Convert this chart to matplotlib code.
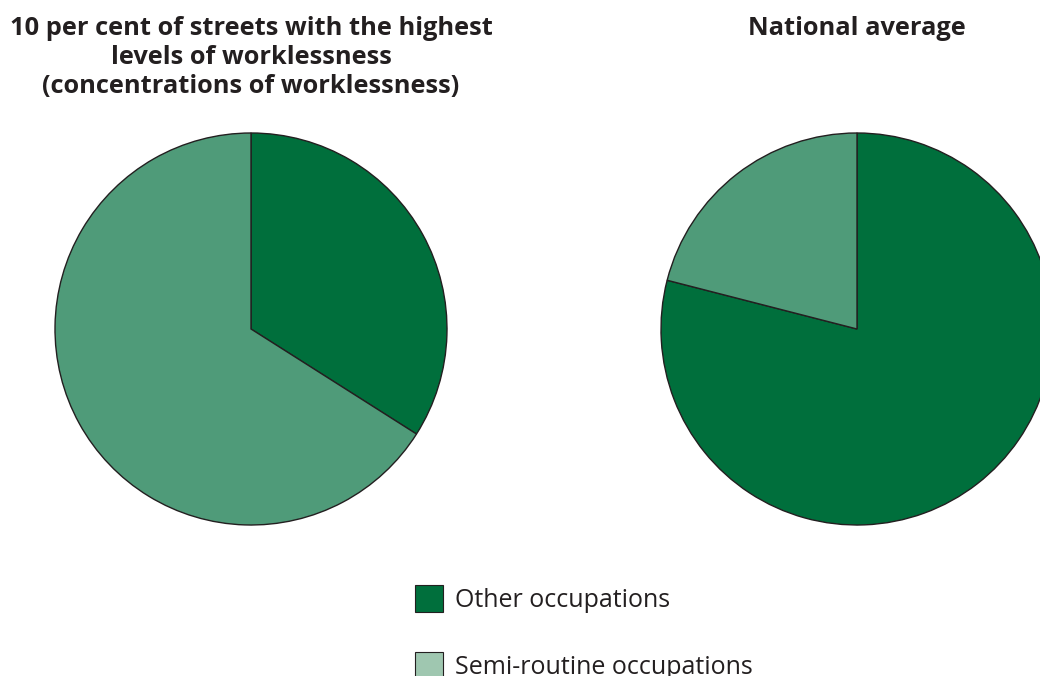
import matplotlib
matplotlib.use('Agg')

import matplotlib.pyplot as plt
from matplotlib.patches import Rectangle

plt.rcParams['font.family'] = ['Open Sans', 'DejaVu Sans']

# Occupation shares (per cent), drawn clockwise from 12 o'clock
CATEGORIES = ['Other occupations', 'Semi-routine occupations']
WORKLESS_STREETS = [34, 66]
NATIONAL_AVERAGE = [79, 21]
TITLES = ['10 per cent of streets with the highest\nlevels of worklessness\n(concentrations of worklessness)',
          'National average']

PIE_COLORS = ['#006f3c', '#4f9b79']
KEY_COLORS = ['#006f3c', '#9fc7b0']
EDGE = '#231f20'
TEXT = '#231f20'

W, H = 1040, 676


def fx(px):
    return px / W


def fy(py):
    return 1 - py / H


fig = plt.figure(figsize=(10.4, 6.76), dpi=100)

# pie axes placed by pixel centre and radius
R = 196
for (cx, cy), shares, title in zip([(251, 329), (857, 329)],
                                   [WORKLESS_STREETS, NATIONAL_AVERAGE],
                                   TITLES):
    ax = fig.add_axes([fx(cx - R), fy(cy + R), 2 * R / W, 2 * R / H])
    ax.pie(shares, colors=PIE_COLORS, startangle=90, counterclock=False,
           radius=1.0,
           wedgeprops=dict(edgecolor=EDGE, linewidth=1.0))
    ax.set_xlim(-1, 1)
    ax.set_ylim(-1, 1)
    ax.set_aspect('equal')
    ax.axis('off')
    fig.text(fx(cx), fy(16), title, ha='center', va='top',
             fontsize=18.3, fontweight='bold', color=TEXT, linespacing=1.2)

# key: swatch plus label, one row per category
for i, (lbl, col) in enumerate(zip(CATEGORIES, KEY_COLORS)):
    top = 585 + i * 67
    fig.patches.append(Rectangle((fx(415), fy(top + 27)), 28 / W, 27 / H,
                                 transform=fig.transFigure, facecolor=col,
                                 edgecolor=EDGE, linewidth=0.8))
    fig.text(fx(455), fy(top + 22), lbl, ha='left', va='baseline',
             fontsize=18, color=TEXT)

fig.savefig('out.png', dpi=100, facecolor='white')
